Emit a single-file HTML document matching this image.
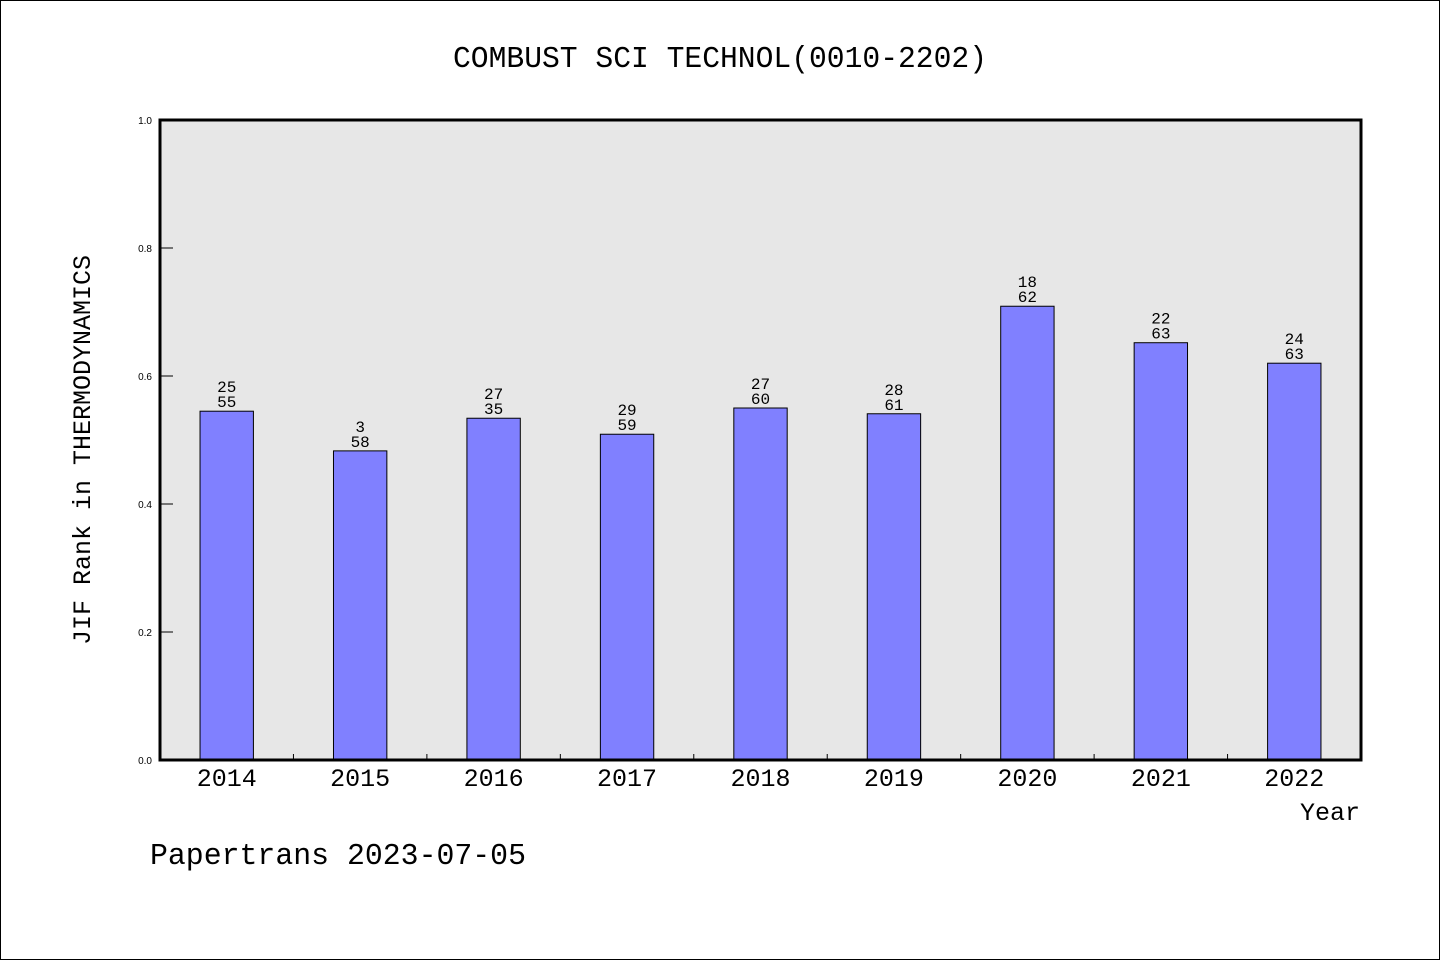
<!DOCTYPE html>
<html><head><meta charset="utf-8"><style>
body{margin:0;background:#fff}
svg{display:block}
text{font-family:"Liberation Mono","DejaVu Sans Mono",monospace;fill:#000}
</style></head><body>
<svg id="chart" width="1440" height="960" viewBox="0 0 1440 960">
<rect x="0.5" y="0.5" width="1439" height="959" fill="#fff" stroke="#000"/>
<text x="720" y="67" text-anchor="middle" font-size="31" textLength="534" lengthAdjust="spacingAndGlyphs">COMBUST SCI TECHNOL(0010-2202)</text>
<rect x="160" y="120" width="1201" height="640" fill="#e7e7e7"/>
<g id="bars"></g>
<g id="axes"></g>
<rect x="160" y="120" width="1201" height="640" fill="none" stroke="#000" stroke-width="3"/>
<text transform="translate(90,450) rotate(-90)" text-anchor="middle" font-size="25" textLength="390" lengthAdjust="spacingAndGlyphs">JIF Rank in THERMODYNAMICS</text>
<text x="1360" y="820" text-anchor="end" font-size="25">Year</text>
<text x="150" y="864" font-size="31" textLength="376" lengthAdjust="spacingAndGlyphs">Papertrans 2023-07-05</text>
</svg>
<script>
const categories=["2014","2015","2016","2017","2018","2019","2020","2021","2022"];
const values=[0.545,0.483,0.534,0.509,0.550,0.541,0.709,0.652,0.620];
const ranks=["25","3","27","29","27","28","18","22","24"];
const totals=["55","58","35","59","60","61","62","63","63"];
const yTicks=[0,0.2,0.4,0.6,0.8,1.0];
const NS="http://www.w3.org/2000/svg";
const x0=160,x1=1361,y0=760,y1=120;
const step=(x1-x0)/categories.length;
const xc=i=>x0+step*(i+0.5);
const ys=v=>y0-(y0-y1)*v;
const bw=step*0.4;
function mk(tag,attrs,parent,txt){const e=document.createElementNS(NS,tag);for(const k in attrs)e.setAttribute(k,attrs[k]);if(txt!==undefined)e.textContent=txt;parent.appendChild(e);return e;}
const bars=document.getElementById('bars'),axes=document.getElementById('axes');
categories.forEach((c,i)=>{
  const r=mk('rect',{x:xc(i)-bw/2,y:ys(values[i]),width:bw,height:y0-ys(values[i]),fill:'#8080ff',stroke:'#000','stroke-width':1},bars);
  
  
  const t1=mk('text',{x:xc(i),y:ys(values[i])-19,'text-anchor':'middle','font-size':16},bars,ranks[i]);
  
  
  const t2=mk('text',{x:xc(i),y:ys(values[i])-4,'text-anchor':'middle','font-size':16},bars,totals[i]);
  
  
  const xl=mk('text',{x:xc(i),y:786,'text-anchor':'middle','font-size':25},axes,c);
  
  
  if(i>0){
    const tk=mk('line',{x1:x0+step*i,x2:x0+step*i,y1:y0,y2:y0-6,stroke:'#000'},axes);
    
    
  }
});
yTicks.forEach(v=>{
  const tk=mk('line',{x1:x0,x2:x0+13,y1:ys(v),y2:ys(v),stroke:'#000'},axes);
  
  
  const tl=mk('text',{x:152,y:ys(v)+4,'text-anchor':'end','font-size':10,style:'font-family:"Liberation Sans",sans-serif'},axes,v.toFixed(1));
  
  
});
</script>
</body></html>
